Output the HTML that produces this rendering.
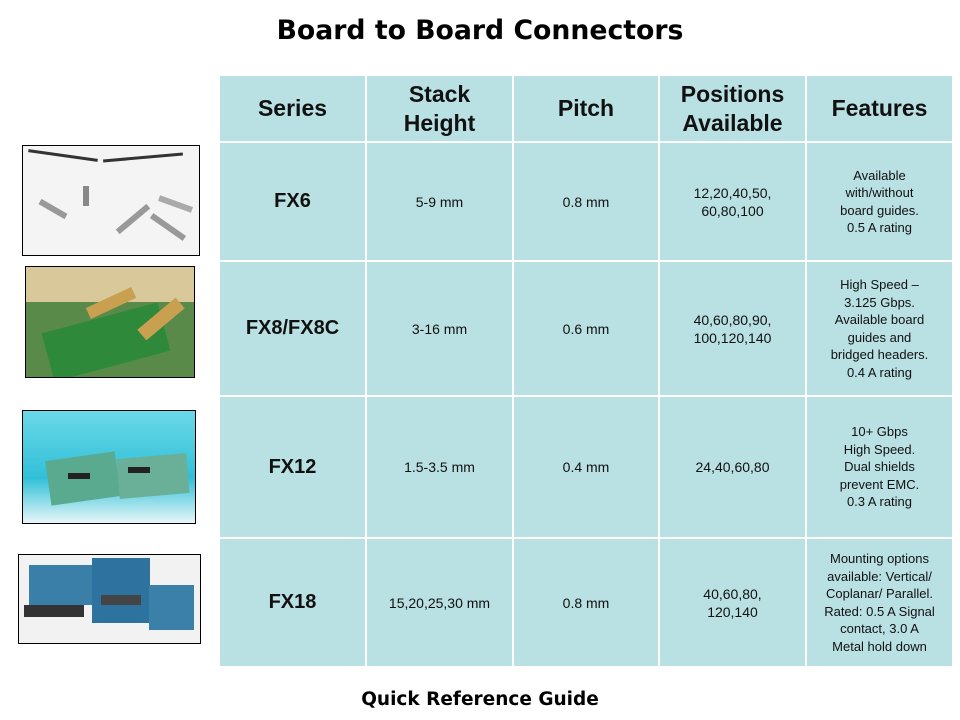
<!DOCTYPE html>
<html><head><style>
body{margin:0;width:960px;height:720px;background:#fff;position:relative;overflow:hidden;font-family:"Liberation Sans",Arial,sans-serif;}
.t{position:absolute;left:0;width:960px;text-align:center;font-weight:bold;color:#000;font-family:"DejaVu Sans",Verdana,sans-serif}
.c{position:absolute;background:#b9e0e3;display:flex;align-items:center;justify-content:center;text-align:center;color:#111}
.h{font-weight:bold;font-size:23px;line-height:29px}
.s{font-weight:bold;font-size:20px}
.n{font-size:14px;line-height:18px}
.f{font-size:13px;line-height:17.5px}
.img{position:absolute;border:1px solid #000;overflow:hidden}
</style></head><body>
<div class="t" style="top:15px;font-size:26.7px">Board to Board Connectors</div>
<div class="t" style="top:689px;font-size:18.5px">Quick Reference Guide</div>

<div class="c h" style="left:220px;top:76px;width:145px;height:65px">Series</div>
<div class="c h" style="left:367px;top:76px;width:145px;height:65px">Stack<br>Height</div>
<div class="c h" style="left:514px;top:76px;width:144px;height:65px">Pitch</div>
<div class="c h" style="left:660px;top:76px;width:145px;height:65px">Positions<br>Available</div>
<div class="c h" style="left:807px;top:76px;width:145px;height:65px">Features</div>

<div class="c s" style="left:220px;top:143px;width:145px;height:117px">FX6</div>
<div class="c n" style="left:367px;top:143px;width:145px;height:117px">5-9 mm</div>
<div class="c n" style="left:514px;top:143px;width:144px;height:117px">0.8 mm</div>
<div class="c n" style="left:660px;top:143px;width:145px;height:117px">12,20,40,50,<br>60,80,100</div>
<div class="c f" style="left:807px;top:143px;width:145px;height:117px">Available<br>with/without<br>board guides.<br>0.5 A rating</div>

<div class="c s" style="left:220px;top:262px;width:145px;height:133px">FX8/FX8C</div>
<div class="c n" style="left:367px;top:262px;width:145px;height:133px">3-16 mm</div>
<div class="c n" style="left:514px;top:262px;width:144px;height:133px">0.6 mm</div>
<div class="c n" style="left:660px;top:262px;width:145px;height:133px">40,60,80,90,<br>100,120,140</div>
<div class="c f" style="left:807px;top:262px;width:145px;height:133px">High Speed –<br>3.125 Gbps.<br>Available board<br>guides and<br>bridged headers.<br>0.4 A rating</div>

<div class="c s" style="left:220px;top:397px;width:145px;height:140px">FX12</div>
<div class="c n" style="left:367px;top:397px;width:145px;height:140px">1.5-3.5 mm</div>
<div class="c n" style="left:514px;top:397px;width:144px;height:140px">0.4 mm</div>
<div class="c n" style="left:660px;top:397px;width:145px;height:140px">24,40,60,80</div>
<div class="c f" style="left:807px;top:397px;width:145px;height:140px">10+ Gbps<br>High Speed.<br>Dual shields<br>prevent EMC.<br>0.3 A rating</div>

<div class="c s" style="left:220px;top:539px;width:145px;height:127px">FX18</div>
<div class="c n" style="left:367px;top:539px;width:145px;height:127px">15,20,25,30 mm</div>
<div class="c n" style="left:514px;top:539px;width:144px;height:127px">0.8 mm</div>
<div class="c n" style="left:660px;top:539px;width:145px;height:127px">40,60,80,<br>120,140</div>
<div class="c f" style="left:807px;top:539px;width:145px;height:127px">Mounting options<br>available: Vertical/<br>Coplanar/ Parallel.<br>Rated: 0.5 A Signal<br>contact, 3.0 A<br>Metal hold down</div>

<div class="img" style="left:22px;top:145px;width:176px;height:109px;background:#f4f4f4">
  <div style="position:absolute;left:5px;top:8px;width:70px;height:3px;background:#333;transform:rotate(8deg)"></div>
  <div style="position:absolute;left:80px;top:10px;width:80px;height:3px;background:#333;transform:rotate(-5deg)"></div>
  <div style="position:absolute;left:15px;top:60px;width:30px;height:6px;background:#999;transform:rotate(30deg)"></div>
  <div style="position:absolute;left:60px;top:40px;width:6px;height:20px;background:#888"></div>
  <div style="position:absolute;left:90px;top:70px;width:40px;height:6px;background:#999;transform:rotate(-40deg)"></div>
  <div style="position:absolute;left:125px;top:78px;width:40px;height:6px;background:#999;transform:rotate(35deg)"></div>
  <div style="position:absolute;left:135px;top:55px;width:35px;height:6px;background:#aaa;transform:rotate(20deg)"></div>
</div>
<div class="img" style="left:25px;top:266px;width:168px;height:110px;background:#5a8a4a">
  <div style="position:absolute;left:0;top:0;width:168px;height:35px;background:#d8c89a"></div>
  <div style="position:absolute;left:20px;top:50px;width:120px;height:50px;background:#2e8a3a;transform:rotate(-15deg)"></div>
  <div style="position:absolute;left:60px;top:30px;width:50px;height:12px;background:#c8a050;transform:rotate(-25deg)"></div>
  <div style="position:absolute;left:110px;top:45px;width:50px;height:14px;background:#c8a050;transform:rotate(-40deg)"></div>
</div>
<div class="img" style="left:22px;top:410px;width:172px;height:112px;background:linear-gradient(180deg,#6ad8e8 0%,#30c0d8 60%,#e8f6f8 100%)">
  <div style="position:absolute;left:25px;top:45px;width:70px;height:45px;background:#5aaa90;transform:rotate(-8deg)"></div>
  <div style="position:absolute;left:95px;top:45px;width:70px;height:40px;background:#6ab098;transform:rotate(-5deg)"></div>
  <div style="position:absolute;left:45px;top:62px;width:22px;height:6px;background:#222"></div>
  <div style="position:absolute;left:105px;top:56px;width:22px;height:6px;background:#222"></div>
</div>
<div class="img" style="left:18px;top:554px;width:181px;height:88px;background:#f2f2f2">
  <div style="position:absolute;left:10px;top:10px;width:65px;height:40px;background:#3a7fa8"></div>
  <div style="position:absolute;left:73px;top:3px;width:58px;height:65px;background:#2e73a0"></div>
  <div style="position:absolute;left:130px;top:30px;width:45px;height:45px;background:#3a80a8"></div>
  <div style="position:absolute;left:5px;top:50px;width:60px;height:12px;background:#333"></div>
  <div style="position:absolute;left:82px;top:40px;width:40px;height:10px;background:#444"></div>
</div>
</body></html>
